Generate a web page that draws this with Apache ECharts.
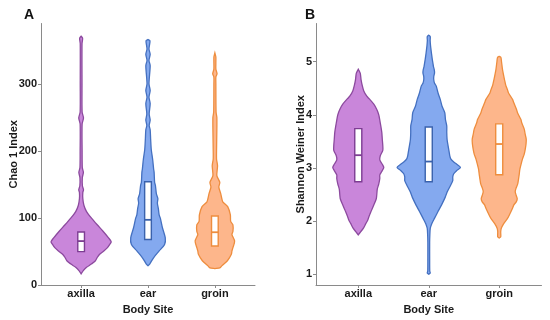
<!DOCTYPE html>
<html>
<head>
<meta charset="utf-8">
<script src="https://cdn.jsdelivr.net/npm/echarts@6/dist/echarts.min.js"></script>
<style>html,body{margin:0;padding:0;background:#fff}#chart{width:550px;height:320px}</style>
</head>
<body>
<div id="chart"></div>
<script>
// ---------- data ----------
const bodySites = ['axilla', 'ear', 'groin'];
const chaoTicks = [0, 100, 200, 300];
const shannonTicks = [1, 2, 3, 4, 5];

// kernel density profiles: [value, density]
const chaoAxillaDensity = [[16.6,0],[21.5,2.2],[26.4,5.5],[31.2,10.3],[36.2,14.5],[41,16.3],[45.9,18.8],[50.8,23],[55.7,26.7],[60.5,29],[64.5,30.5],[70.3,27.8],[80.2,22.2],[89.8,16.3],[99.7,10.5],[109.5,5.5],[119,2.8],[129,1.7],[138,1.7],[142,2.4],[148,1.3],[160,1.2],[168,2.3],[175,1.2],[200,1],[240,1],[249,2.4],[258,1],[300,0.9],[360,0.9],[368,1.5],[371,0]];
const chaoEarDensity = [[28.8,0],[31.3,1.7],[41,5.8],[50.8,11.3],[60.5,16.8],[70.3,17.5],[85,14.7],[99.7,12.5],[104.5,11.3],[114,10.5],[122,9.5],[129,10],[136,8.5],[148.5,7.5],[153,6.7],[168,6.2],[173,5.7],[187.6,4.7],[202,3.3],[217,2.7],[231.6,2.2],[238,1.2],[246,2.2],[255,1.2],[270.7,2.2],[280,1],[290,2.2],[300,1],[327,2.2],[335,1],[344,2.2],[352,1],[364,2],[366,0]];
const chaoGroinDensity = [[24.5,0],[25.4,5],[28.9,7.3],[36.2,12.7],[45.9,16.7],[50.8,17.3],[55.7,18.3],[65.5,20],[75.2,17.3],[80,18.3],[89.8,18.3],[94.8,16],[104.5,15.7],[116.8,13],[124,8],[129,7],[136,6],[146,4],[153,5],[163,2],[177.8,2.7],[187.6,1.7],[202,1.7],[232,2],[250,2],[258,1.2],[300,1],[310,1],[315,2.2],[322,1],[340,1],[346,0]];

const shannonAxillaDensity = [[1.74,0],[1.8,2.5],[1.86,5],[1.95,7.5],[2.02,9.5],[2.1,11],[2.17,12.5],[2.3,15.5],[2.42,18],[2.5,18.5],[2.6,19],[2.7,20.5],[2.8,21.5],[2.87,21.5],[2.95,24],[3.01,25.5],[3.07,24],[3.15,21.5],[3.23,22],[3.33,24.5],[3.42,24.5],[3.54,24],[3.67,23.5],[3.79,22.5],[3.9,21.5],[4.0,20.5],[4.1,18.5],[4.2,15.5],[4.3,11],[4.35,8.5],[4.45,5.5],[4.55,4],[4.66,2.8],[4.78,2],[4.86,0]];
const shannonEarDensity = [[1.0,0],[1.02,1.5],[1.06,1],[1.3,0.9],[1.6,0.9],[1.74,1.1],[1.86,1.5],[1.95,3],[2.05,5.7],[2.17,9],[2.3,12.7],[2.45,16.5],[2.55,18.5],[2.68,22],[2.76,24],[2.83,24],[2.89,25],[2.95,28],[3.01,31.7],[3.07,28],[3.11,25],[3.17,22],[3.23,21],[3.29,20.5],[3.42,19.3],[3.54,18.3],[3.67,18],[3.79,18],[3.91,16.7],[4.04,16],[4.16,13.3],[4.29,11.5],[4.41,9.3],[4.54,7.5],[4.6,5.7],[4.66,5],[4.72,5],[4.79,5.8],[4.85,5.5],[4.91,4.7],[4.97,4.2],[5.05,3.5],[5.16,2.7],[5.22,2.3],[5.3,1.8],[5.4,1.4],[5.47,1.5],[5.5,0]];
const shannonGroinDensity = [[1.68,0],[1.7,1.5],[1.8,1.5],[1.86,2],[1.95,4.5],[2.05,8.3],[2.11,10],[2.24,13.3],[2.3,14.5],[2.36,17],[2.42,18],[2.48,17],[2.55,16],[2.61,16.7],[2.7,18.5],[2.79,19.3],[2.88,20],[2.98,20.7],[3.08,22],[3.17,23.3],[3.26,25],[3.35,26],[3.45,26.8],[3.54,27],[3.63,26],[3.73,25],[3.85,22.5],[3.91,21.7],[4.04,18.3],[4.1,17.3],[4.23,14.5],[4.29,13.3],[4.41,9.3],[4.47,8.3],[4.56,6.5],[4.66,5.3],[4.78,4],[4.85,3.3],[5.0,2.3],[5.08,1.7],[5.1,0]];

// box statistics per body site
const chaoQ1 = [49.8, 67.9, 58.2];
const chaoMedian = [65.5, 97.2, 78.7];
const chaoQ3 = [79, 154, 103];
const shannonQ1 = [2.74, 2.74, 2.87];
const shannonMedian = [3.24, 3.12, 3.45];
const shannonQ3 = [3.74, 3.77, 3.83];

// ---------- styles ----------
const fills = ['#c986da', '#84a9ef', '#fdb68b'];
const strokes = ['#8c4a9e', '#4470c0', '#ee8d3e'];
const boxStrokes = ['#7d3d92', '#3a62ad', '#ee8d3e'];
const HALF_MAX = 0.45;   // widest violin half-width in category units
const BOX_W = 0.1;
const FONT = "'Liberation Sans', Arial, sans-serif";

function violinSeries(densities, q1, med, q3, idx) {
  let maxD = 0;
  densities.forEach(d => d.forEach(p => { if (p[1] > maxD) maxD = p[1]; }));
  const scale = HALF_MAX / maxD;
  return {
    type: 'custom',
    xAxisIndex: idx, yAxisIndex: idx,
    data: bodySites.map((s, i) => [i + 1, med[i]]),
    encode: { x: 0, y: 1 },
    silent: true,
    renderItem: function (params, api) {
      const i = params.dataIndex;
      const cx = api.value(0);
      const dens = densities[i];
      const right = dens.map(p => api.coord([cx + p[1] * scale, p[0]]));
      const left = dens.slice().reverse().map(p => api.coord([cx - p[1] * scale, p[0]]));
      const pts = right.concat(left);
      const tl = api.coord([cx - BOX_W / 2, q3[i]]);
      const br = api.coord([cx + BOX_W / 2, q1[i]]);
      const ml = api.coord([cx - BOX_W / 2, med[i]]);
      const mr = api.coord([cx + BOX_W / 2, med[i]]);
      return {
        type: 'group',
        children: [
          { type: 'polygon', shape: { points: pts, smooth: 0.25 },
            style: { fill: fills[i], stroke: strokes[i], lineWidth: 1.3 } },
          { type: 'rect', shape: { x: tl[0], y: tl[1], width: br[0] - tl[0], height: br[1] - tl[1] },
            style: { fill: '#ffffff', stroke: boxStrokes[i], lineWidth: 1.4 } },
          { type: 'line', shape: { x1: ml[0], y1: ml[1], x2: mr[0], y2: mr[1] },
            style: { stroke: boxStrokes[i], lineWidth: 1.8 } }
        ]
      };
    }
  };
}

const axisLine = { lineStyle: { color: '#8a8a8a', width: 1 } };
const axisTickStyle = { length: 3, lineStyle: { color: '#8a8a8a' } };
const labelStyle = { color: '#1a1a1a', fontWeight: 'bold', fontSize: 11, fontFamily: FONT };
const nameStyle = { color: '#1a1a1a', fontWeight: 'bold', fontSize: 11, fontFamily: FONT };

function xAxis(gi) {
  return {
    type: 'value', gridIndex: gi, min: 0.4, max: 3.6,
    name: 'Body Site', nameLocation: 'middle', nameGap: 19, nameTextStyle: nameStyle,
    nameMoveOverlap: false,
    axisLine: axisLine,
    axisTick: Object.assign({ customValues: [1, 2, 3] }, axisTickStyle),
    axisLabel: Object.assign({ customValues: [1, 2, 3], margin: 3,
      formatter: v => bodySites[Math.round(v) - 1] }, labelStyle),
    splitLine: { show: false }
  };
}

const option = {
  animation: false,
  backgroundColor: '#ffffff',
  graphic: [
    { type: 'text', left: 24, top: 8, style: { text: 'A', font: "bold 14px " + FONT, fill: '#111' } },
    { type: 'text', left: 305, top: 8, style: { text: 'B', font: "bold 14px " + FONT, fill: '#111' } }
  ],
  grid: [
    { left: 41, right: 295, top: 23.5, bottom: 32 },
    { left: 316, right: 8.5, top: 23.5, bottom: 32 }
  ],
  xAxis: [xAxis(0), xAxis(1)],
  yAxis: [
    {
      type: 'value', gridIndex: 0, min: 0, max: 390,
      name: 'Chao 1 Index', nameLocation: 'middle', nameGap: 22, nameTextStyle: nameStyle,
      nameMoveOverlap: false,
      axisLine: Object.assign({ show: true }, axisLine),
      axisTick: Object.assign({ show: true, customValues: chaoTicks }, axisTickStyle),
      axisLabel: Object.assign({ customValues: chaoTicks, margin: 4 }, labelStyle),
      splitLine: { show: false }
    },
    {
      type: 'value', gridIndex: 1, min: 0.795, max: 5.72,
      name: 'Shannon Weiner Index', nameLocation: 'middle', nameGap: 10, nameTextStyle: nameStyle,
      nameMoveOverlap: false,
      axisLine: Object.assign({ show: true }, axisLine),
      axisTick: Object.assign({ show: true, customValues: shannonTicks }, axisTickStyle),
      axisLabel: Object.assign({ customValues: shannonTicks, margin: 4 }, labelStyle),
      splitLine: { show: false }
    }
  ],
  series: [
    violinSeries([chaoAxillaDensity, chaoEarDensity, chaoGroinDensity], chaoQ1, chaoMedian, chaoQ3, 0),
    violinSeries([shannonAxillaDensity, shannonEarDensity, shannonGroinDensity], shannonQ1, shannonMedian, shannonQ3, 1)
  ]
};

const chart = echarts.init(document.getElementById('chart'), null, { renderer: 'canvas' });
chart.setOption(option);
</script>
</body>
</html>
